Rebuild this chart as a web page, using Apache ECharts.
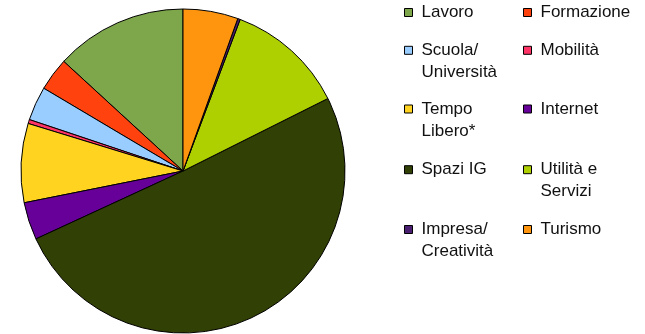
<!DOCTYPE html>
<html>
<head>
<meta charset="utf-8">
<script src="https://cdn.jsdelivr.net/npm/echarts@6/dist/echarts.min.js"></script>
<style>
  html, body { margin: 0; padding: 0; background: #fff; }
  #chart { width: 645px; height: 334px; }
</style>
</head>
<body>
<div id="chart"></div>
<script>
// Categories in legend order (pie runs counter-clockwise from 12 o'clock)
const categories = [
  'Lavoro', 'Formazione', 'Scuola/Università', 'Mobilità', 'Tempo Libero*',
  'Internet', 'Spazi IG', 'Utilità e Servizi', 'Impresa/Creatività', 'Turismo'
];
// Share of each category (%)
const shares = [13.2, 3.3, 3.4, 0.4, 7.9, 3.75, 50.6, 11.9, 0.25, 5.5];
// Legend text as wrapped in the key
const legendLabels = [
  'Lavoro', 'Formazione', 'Scuola/\nUniversità', 'Mobilità', 'Tempo\nLibero*',
  'Internet', 'Spazi IG', 'Utilità e\nServizi', 'Impresa/\nCreatività', 'Turismo'
];
const colors = [
  '#7ea64a', '#ff420e', '#99ccff', '#ff3366', '#ffd320',
  '#660099', '#314004', '#aecf00', '#4b1f6f', '#ff950e'
];

// Key layout: two columns, rows of varying height
const colLeft = [404, 523];
const rowCenter = [12.5, 50.3, 109, 169.7, 229.5];

const legends = categories.map((name, i) => {
  const twoLines = legendLabels[i].indexOf('\n') >= 0;
  const cy = rowCenter[Math.floor(i / 2)];
  // A leading blank line keeps the first text line level with the swatch
  const text = twoLines ? '\n' + legendLabels[i] : legendLabels[i];
  return {
    data: [name],
    left: colLeft[i % 2],
    top: twoLines ? cy - 33 : cy - 11,
    padding: 0,
    icon: 'rect',
    itemWidth: 8,
    itemHeight: 8,
    itemStyle: { borderColor: '#000', borderWidth: 1 },
    selectedMode: false,
    formatter: () => text,
    textStyle: {
      fontFamily: 'Liberation Sans, Arial, sans-serif',
      fontSize: 17,
      color: '#111',
      lineHeight: 22,
      padding: [0, 0, 0, 4]
    }
  };
});

const chart = echarts.init(document.getElementById('chart'), null, { renderer: 'canvas' });
chart.setOption({
  animation: false,
  color: colors,
  legend: legends,
  series: [{
    type: 'pie',
    center: [183, 171],
    radius: 162,
    startAngle: 90,
    clockwise: false,
    label: { show: false },
    labelLine: { show: false },
    emphasis: { disabled: true },
    itemStyle: { borderColor: '#000', borderWidth: 1 },
    data: categories.map((name, i) => ({ name: name, value: shares[i] }))
  }]
});
</script>
</body>
</html>
